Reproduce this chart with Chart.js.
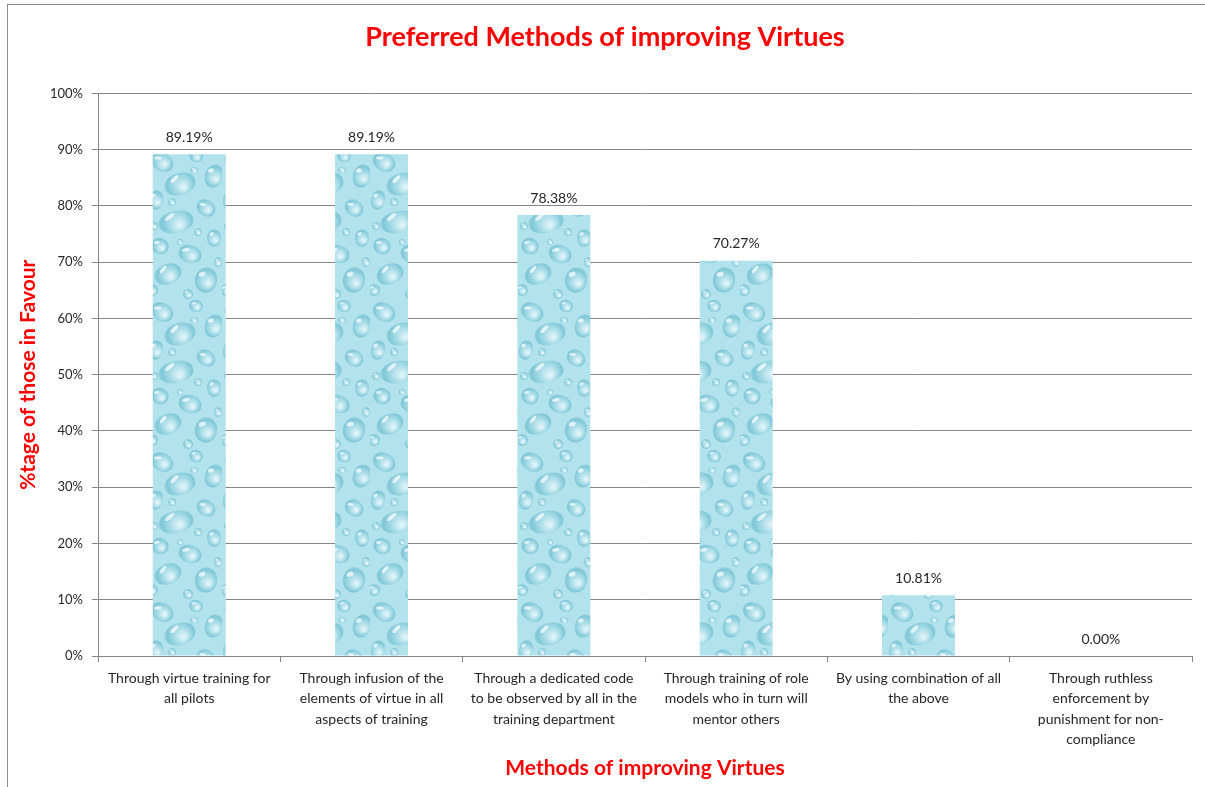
<!DOCTYPE html>
<html>
<head>
<meta charset="utf-8">
<script src="https://cdn.jsdelivr.net/npm/chart.js@4"></script>
<style>
  html, body { margin: 0; padding: 0; background: #fff; }
  #frame { position: absolute; left: 7px; top: 4px; width: 1205px; height: 790px;
    border-top: 1px solid #8a8a8a; border-left: 1px solid #8a8a8a; }
  #wrap { position: absolute; left: 0; top: 0; width: 1205px; height: 787px; }
</style>
</head>
<body>
<div id="frame"></div>
<div id="wrap"><canvas id="myChart" width="1205" height="787"></canvas></div>
<script>
// Datos del gráfico
const categorias = [
  ['Through virtue training for', 'all pilots'],
  ['Through infusion of the', 'elements of virtue in all', 'aspects of training'],
  ['Through a dedicated code', 'to be observed by all in the', 'training department'],
  ['Through training of role', 'models who in turn will', 'mentor others'],
  ['By using combination of all', 'the above'],
  ['Through ruthless', 'enforcement by', 'punishment for non-', 'compliance']
];
const valores = [89.19, 89.19, 78.38, 70.27, 10.81, 0.00];
const ticksY = ['0%', '10%', '20%', '30%', '40%', '50%', '60%', '70%', '80%', '90%', '100%'];

const fuente = 'Lato, "Open Sans", sans-serif';

// Textura de gotas de agua para las barras
function crearTextura(ctx) {
  const c = document.createElement('canvas');
  c.width = 74; c.height = 150;
  const g = c.getContext('2d');
  g.fillStyle = '#b2e2eb';
  g.fillRect(0, 0, c.width, c.height);
  const gotas = [
    [14, 12, 12, 9, 0.5], [48, 6, 7, 6, 0.2], [66, 26, 9, 12, 0.3], [32, 34, 16, 11, -0.3],
    [8, 50, 7, 10, 0.2], [58, 58, 10, 8, 0.6], [28, 72, 18, 11, -0.2], [66, 88, 7, 9, 0],
    [12, 96, 9, 8, 0.4], [42, 104, 12, 9, 0.3], [20, 124, 14, 10, -0.4], [58, 130, 11, 13, 0.2],
    [4, 140, 6, 6, 0], [40, 144, 5, 5, 0], [50, 82, 4, 4, 0], [6, 76, 4, 4, 0],
    [46, 20, 4, 3, 0], [24, 52, 4, 4, 0], [70, 112, 4, 5, 0], [32, 92, 3, 3, 0]
  ];
  gotas.forEach(([x, y, rx, ry, rot]) => {
    const r = Math.max(rx, ry);
    const gr = g.createRadialGradient(x + rx * 0.25, y + ry * 0.3, 1, x, y, r);
    gr.addColorStop(0, '#dff4f8');
    gr.addColorStop(0.5, '#a3dae6');
    gr.addColorStop(0.85, '#7fc7d8');
    gr.addColorStop(1, '#9fd6e2');
    g.fillStyle = gr;
    g.beginPath();
    g.ellipse(x, y, rx, ry, rot, 0, Math.PI * 2);
    g.fill();
    g.fillStyle = 'rgba(255,255,255,0.7)';
    g.beginPath();
    g.ellipse(x - rx * 0.35, y - ry * 0.45, rx * 0.32, ry * 0.18, rot - 0.5, 0, Math.PI * 2);
    g.fill();
  });
  return ctx.createPattern(c, 'repeat');
}

// Etiquetas de valor encima de cada barra
const etiquetasValor = {
  id: 'etiquetasValor',
  afterDatasetsDraw(chart) {
    const ctx = chart.ctx;
    const meta = chart.getDatasetMeta(0);
    ctx.save();
    ctx.font = '14px ' + fuente;
    ctx.fillStyle = '#262626';
    ctx.textAlign = 'center';
    ctx.textBaseline = 'middle';
    meta.data.forEach((bar, i) => {
      ctx.fillText(valores[i].toFixed(2) + '%', bar.x, bar.y - 17);
    });
    ctx.restore();
  }
};

const ctx = document.getElementById('myChart').getContext('2d');
const textura = crearTextura(ctx);

const myChart = new Chart(ctx, {
  type: 'bar',
  data: {
    labels: categorias,
    datasets: [{
      data: valores,
      backgroundColor: textura,
      borderWidth: 0,
      categoryPercentage: 0.4,
      barPercentage: 1.0
    }]
  },
  options: {
    responsive: false,
    animation: false,
    layout: { padding: { left: 18, right: 13, top: 13, bottom: 6 } },
    plugins: {
      legend: { display: false },
      tooltip: { enabled: false },
      title: {
        display: true,
        text: 'Preferred Methods of improving Virtues',
        color: '#ff0000',
        font: { family: fuente, size: 27, weight: 'bold' },
        padding: { top: 8, bottom: 40 }
      }
    },
    scales: {
      x: {
        grid: { drawOnChartArea: false, drawTicks: true, tickLength: 6, color: '#868686', offset: true },
        border: { color: '#868686' },
        ticks: { color: '#262626', font: { family: fuente, size: 14, lineHeight: 1.46 }, maxRotation: 0, padding: 6 },
        title: {
          display: true, text: 'Methods of improving Virtues', color: '#ff0000',
          font: { family: fuente, size: 21, weight: 'bold' }, padding: { top: 0, bottom: 0 }
        }
      },
      y: {
        min: 0, max: 100,
        grid: { color: '#868686', tickLength: 6 },
        border: { color: '#868686' },
        ticks: {
          stepSize: 10, color: '#262626', font: { family: fuente, size: 13 }, padding: 9,
          callback: (v, i) => ticksY[i]
        },
        title: {
          display: true, text: '%tage of those in Favour', color: '#ff0000',
          font: { family: fuente, size: 21, weight: 'bold', lineHeight: 1 }, padding: { top: 0, bottom: 2 }
        }
      }
    }
  },
  plugins: [etiquetasValor]
});
</script>
</body>
</html>
